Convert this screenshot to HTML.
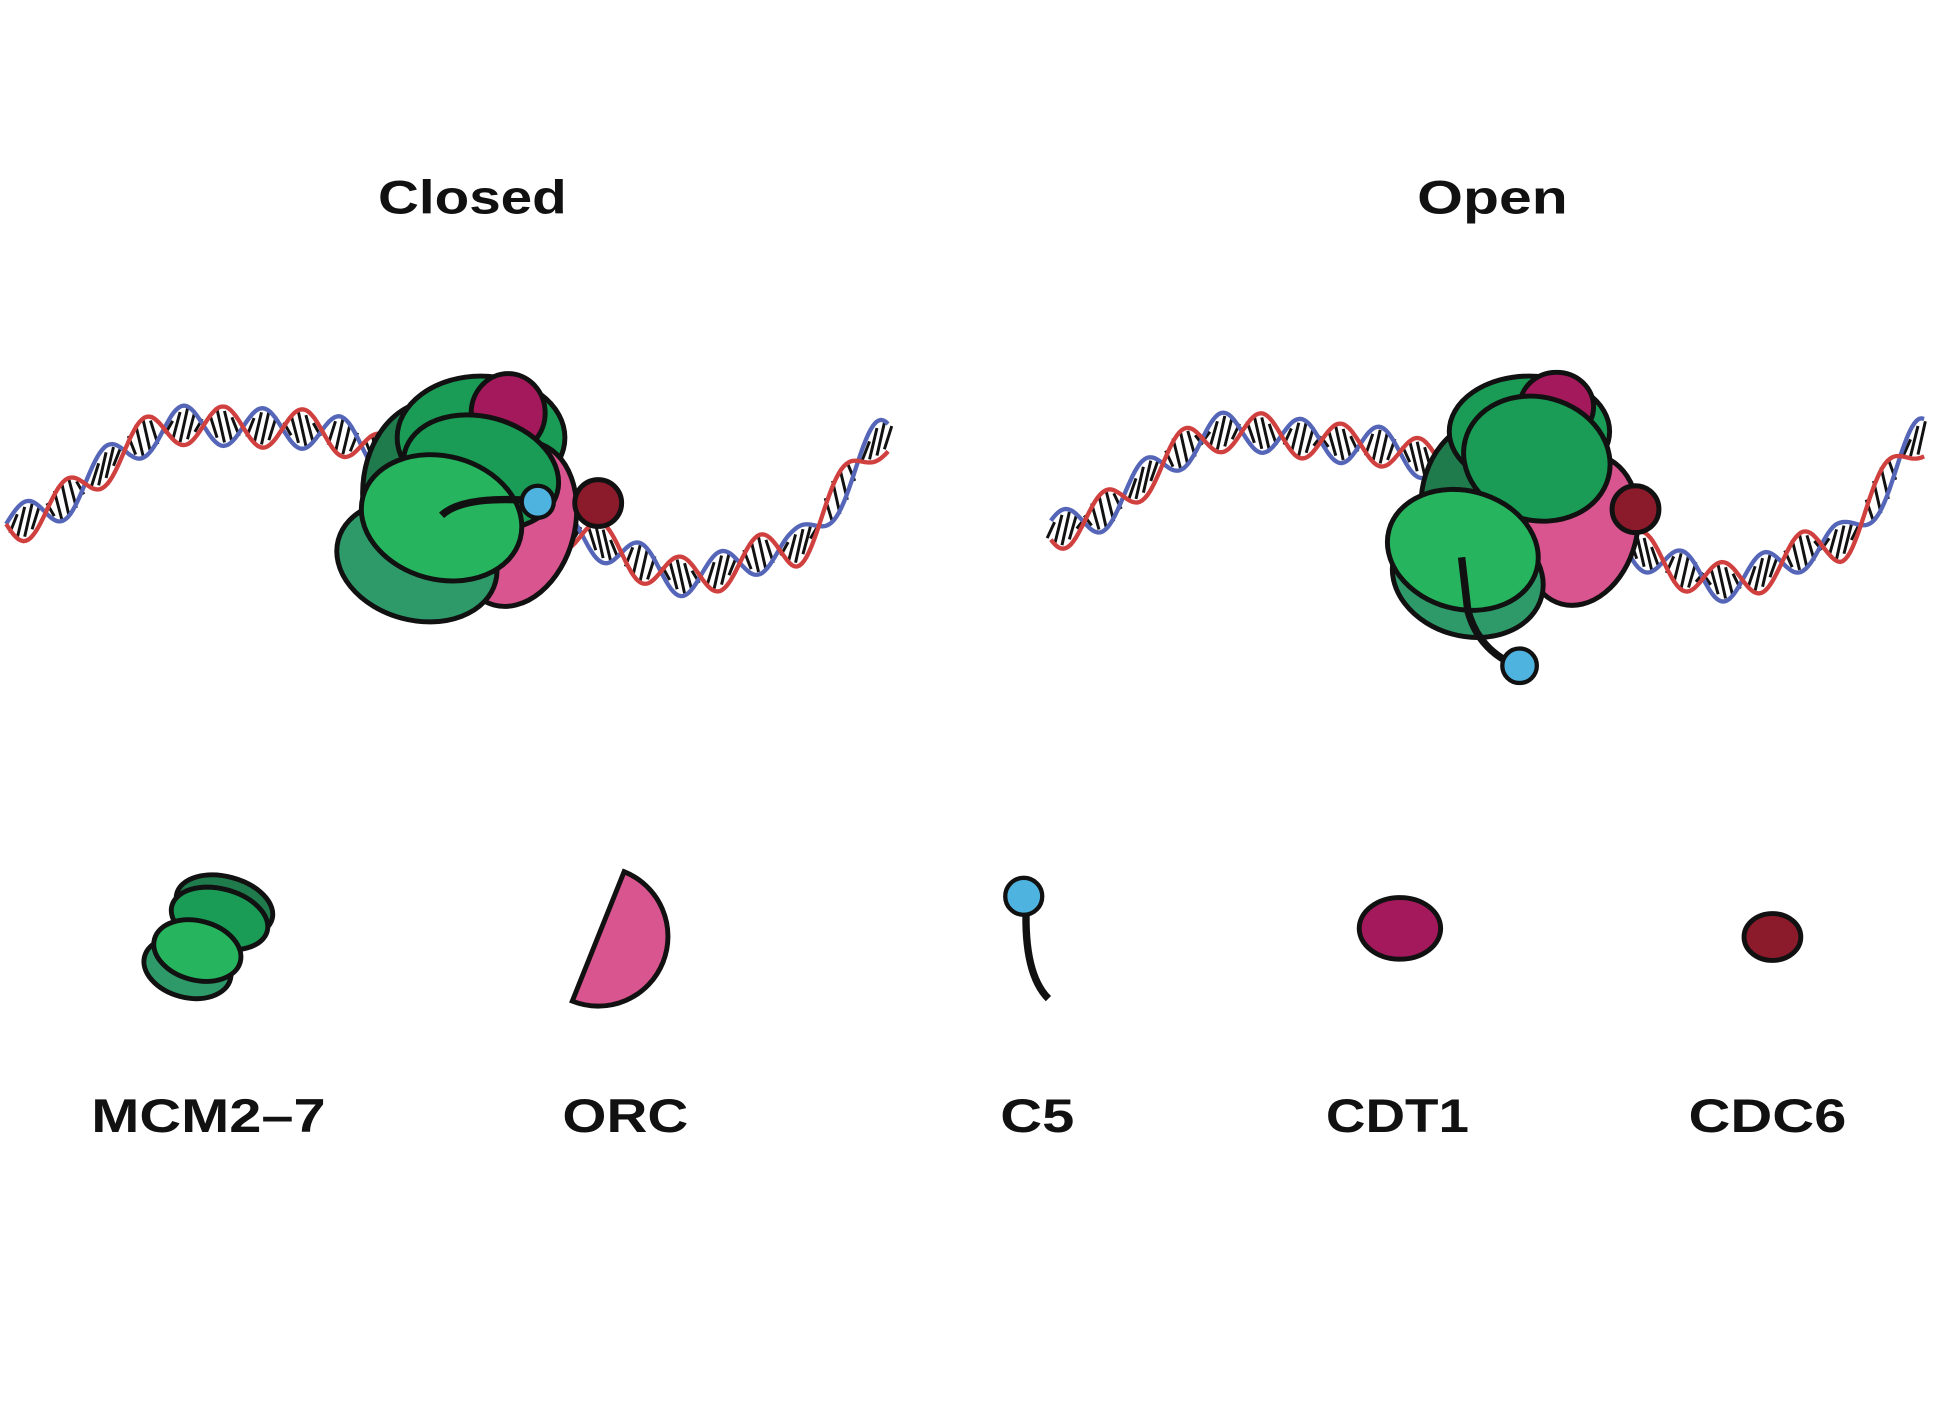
<!DOCTYPE html>
<html><head><meta charset="utf-8"><style>
html,body{margin:0;padding:0;background:#fff;}
svg{display:block}
text{font-family:"Liberation Sans",sans-serif;font-weight:bold;fill:#111;text-anchor:middle}
</style></head><body>
<svg id="s" width="1934" height="1424" viewBox="0 0 1568 1155" preserveAspectRatio="none" xmlns="http://www.w3.org/2000/svg">
<rect width="1568" height="1155" fill="#fff"/>
<text x="383" y="173" font-size="38" textLength="153" lengthAdjust="spacingAndGlyphs">Closed</text>
<text x="1210" y="173" font-size="38" textLength="122" lengthAdjust="spacingAndGlyphs">Open</text>
<g id="dna"></g>
<g stroke="#111" stroke-width="4">
<ellipse cx="352" cy="400" rx="58" ry="75" fill="#1f7a4c"/>
<ellipse cx="390" cy="355" rx="68" ry="50" fill="#1a9c56"/>
<ellipse cx="418" cy="425" rx="48" ry="68" fill="#d9558f" transform="rotate(15 418 425)"/>
<ellipse cx="412" cy="335" rx="30" ry="32" fill="#a3195b"/>
<ellipse cx="338" cy="455" rx="66" ry="48" fill="#2e9a6a" transform="rotate(15 338 455)"/>
<ellipse cx="390" cy="383" rx="64" ry="45" fill="#1a9c56" transform="rotate(15 390 383)"/>
<ellipse cx="358" cy="420" rx="66" ry="50" fill="#27b45f" transform="rotate(15 358 420)"/>
<path d="M358 418 Q375 402 430 406" fill="none" stroke-width="6"/>
<circle cx="436" cy="407" r="13" fill="#4fb3e0" stroke-width="3.5"/>
<circle cx="485" cy="408" r="19" fill="#8b1a2a"/>
<ellipse cx="1210" cy="410" rx="58" ry="70" fill="#1f7a4c"/>
<ellipse cx="1240" cy="350" rx="65" ry="45" fill="#1a9c56"/>
<ellipse cx="1282" cy="430" rx="45" ry="62" fill="#d9558f" transform="rotate(15 1282 430)"/>
<ellipse cx="1262" cy="330" rx="30" ry="28" fill="#a3195b"/>
<ellipse cx="1190" cy="468" rx="62" ry="48" fill="#2e9a6a" transform="rotate(15 1190 468)"/>
<ellipse cx="1246" cy="372" rx="60" ry="50" fill="#1a9c56" transform="rotate(15 1246 372)"/>
<ellipse cx="1186" cy="446" rx="62" ry="48" fill="#27b45f" transform="rotate(15 1186 446)"/>
<circle cx="1326" cy="413" r="19" fill="#8b1a2a"/>
<path d="M1185 452 L1190 495 Q1198 525 1225 538" fill="none" stroke-width="6"/>
<circle cx="1232" cy="540" r="14" fill="#4fb3e0" stroke-width="3.5"/>
<ellipse cx="182" cy="735" rx="40" ry="24" fill="#1f7a4c" transform="rotate(15 182 735)"/>
<ellipse cx="178" cy="745" rx="40" ry="24" fill="#1a9c56" transform="rotate(15 178 745)"/>
<ellipse cx="152" cy="785" rx="36" ry="24" fill="#2e9a6a" transform="rotate(15 152 785)"/>
<ellipse cx="160" cy="771" rx="36" ry="24" fill="#27b45f" transform="rotate(15 160 771)"/>
<path d="M506 707 A56 56 0 0 1 464 812 Z" fill="#d9558f"/>
<path d="M832 735 Q830 790 850 810" fill="none" stroke-width="6"/>
<circle cx="830" cy="727" r="15" fill="#4fb3e0" stroke-width="3.5"/>
<ellipse cx="1135" cy="753" rx="33" ry="25" fill="#a3195b"/>
<ellipse cx="1437" cy="760" rx="23" ry="19" fill="#8b1a2a"/>
</g>
<text x="169" y="918" font-size="38" textLength="190" lengthAdjust="spacingAndGlyphs">MCM2–7</text>
<text x="507" y="918" font-size="38" textLength="102" lengthAdjust="spacingAndGlyphs">ORC</text>
<text x="841" y="918" font-size="38" textLength="60" lengthAdjust="spacingAndGlyphs">C5</text>
<text x="1133" y="918" font-size="38" textLength="116" lengthAdjust="spacingAndGlyphs">CDT1</text>
<text x="1433" y="918" font-size="38" textLength="128" lengthAdjust="spacingAndGlyphs">CDC6</text>
</svg>
<script>
(function(){
var NS="http://www.w3.org/2000/svg",g=document.getElementById("dna");
function interp(pts,x){for(var i=0;i<pts.length-1;i++){var a=pts[i],b=pts[i+1];if(x>=a[0]&&x<=b[0]){var t=(x-a[0])/(b[0]-a[0]);t=(1-Math.cos(Math.PI*t))/2;return a[1]+(b[1]-a[1])*t;}}return pts[pts.length-1][1];}
function helix(pts,x0,x1,phase){
var A=16,P=64,step=2,red="",blue="",hatch="";
for(var x=x0;x<=x1;x+=step){var y=interp(pts,x);var th=2*Math.PI*(x-x0)/P+phase;
var r=y+A*Math.sin(th),b=y-A*Math.sin(th);
red+=(x==x0?"M":"L")+x+" "+r.toFixed(1);blue+=(x==x0?"M":"L")+x+" "+b.toFixed(1);}
for(var x=x0;x<=x1;x+=6){var y=interp(pts,x);var th=2*Math.PI*(x-x0)/P+phase;
var s=Math.sin(th);if(Math.abs(s)<0.25)continue;
hatch+="M"+(x-3)+" "+(y+A*s*0.85).toFixed(1)+"L"+(x+3)+" "+(y-A*s*0.85).toFixed(1);}
[[hatch,"#111",2.4],[blue,"#5566b8",3.5],[red,"#d0403f",3.5]].forEach(function(d){var p=document.createElementNS(NS,"path");p.setAttribute("d",d[0]);p.setAttribute("stroke",d[1]);p.setAttribute("stroke-width",d[2]);p.setAttribute("fill","none");g.appendChild(p);});}
helix([[5,425],[150,345],[250,348],[330,372]],5,330,0);
helix([[450,430],[560,468],[640,445],[720,355]],450,720,1);
helix([[852,430],[1000,350],[1100,360],[1175,375]],852,1175,0.5);
helix([[1300,440],[1400,472],[1490,440],[1560,355]],1300,1560,1.5);
})();
</script>
</body></html>
